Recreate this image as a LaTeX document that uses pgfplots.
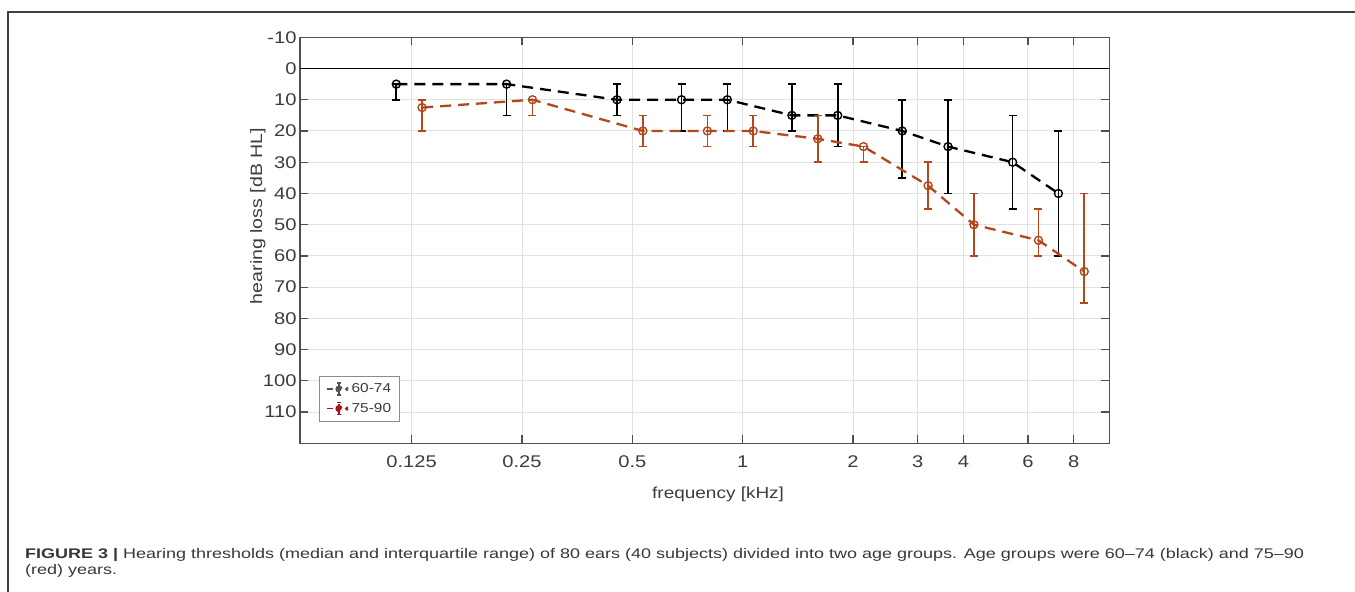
\documentclass[border=0pt]{standalone}
\usepackage{fontspec}
\setmainfont{Liberation Sans}[FakeStretch=1.19]
\newfontfamily\capfont{Liberation Sans}[FakeStretch=1.29]
\usepackage{pgfplots}
\pgfplotsset{compat=1.18}
\definecolor{axgray}{RGB}{80,80,80}
\definecolor{txtgray}{RGB}{60,60,60}
\definecolor{gridgray}{RGB}{225,225,225}
\definecolor{redser}{RGB}{178,72,28}
\definecolor{legred}{RGB}{160,24,24}
\definecolor{leggray}{RGB}{85,85,85}
\definecolor{capgray}{RGB}{55,55,55}
\begin{document}
\begin{tikzpicture}[x=1bp,y=1bp]
\path[use as bounding box] (0,0) rectangle (1355,592);
\draw[color=black!75, line width=1.2bp] (8,0) -- (8,580) -- (1355,580);
\begin{axis}[
  at={(300bp,148.7bp)}, anchor=south west, scale only axis,
  width=809.3bp, height=406bp,
  xmode=log, log basis x=2, xmin=0.062, xmax=10,
  y dir=reverse, ymin=-10, ymax=120,
  xtick={0.125,0.25,0.5,1,2,3,4,6,8},
  xticklabels={0.125,0.25,0.5,1,2,3,4,6,8},
  ytick={-10,0,10,20,30,40,50,60,70,80,90,100,110},
  grid=major, major grid style={gridgray, line width=1bp},
  tick align=inside, major tick length=8bp,
  tick style={axgray, line width=1.2bp},
  axis line style={axgray, line width=1.3bp},
  ticklabel style={font=\fontsize{17}{17}\selectfont, text=txtgray},
  xticklabel style={yshift=-9bp},
  /pgf/number format/assume math mode=true,
  xlabel={frequency [kHz]}, ylabel={hearing loss [dB HL]},
  label style={font=\fontsize{16}{16}\selectfont, text=txtgray},
  xlabel style={at={(axis description cs:0.5166,-0.127)}, anchor=center},
  ylabel style={at={(axis description cs:-0.052,0.56)}, anchor=center,
    font=\fontsize{16.5}{16.5}\selectfont},
  legend style={at={(axis description cs:0.0235,0.166)}, anchor=north west,
    draw=black!45, line width=0.8bp, font=\fontsize{13}{13}\selectfont,
    text=txtgray, inner xsep=7bp, inner ysep=6bp, row sep=6bp,
    nodes={inner sep=1.5bp}, cells={anchor=west}},
  legend cell align=left,
]
\addplot[black, line width=1.4bp, forget plot] coordinates {(0.062,0) (10,0)};
\addplot[black, line width=2.3bp, dash pattern=on 11bp off 7bp,
  mark=o, mark size=4bp, mark options={solid, line width=1.4bp},
  legend image code/.code={
    \draw[leggray, line width=1.2bp] (0bp,0bp) -- (6bp,0bp);
    \draw[leggray, line width=1.2bp] (12bp,-6bp) -- (12bp,6bp)
       (10bp,-6bp) -- (14bp,-6bp) (10bp,6bp) -- (14bp,6bp);
    \fill[leggray] (12bp,0bp) circle (2.4bp);
    \fill[leggray] (20bp,0bp) circle (0.7bp);
    \path (22bp,0bp);},
  error bars/.cd, y dir=both, y explicit,
  error bar style={line width=1.6bp, solid, black},
  error mark options={rotate=90, mark size=4bp, line width=1.6bp, solid, black}]
  table[x=x, y=y, y error plus=ep, y error minus=em] {
x y em ep
0.1135 5 0 5
0.227 5 0 10
0.454 10 5 5
0.681 10 5 10
0.908 10 5 10
1.362 15 10 5
1.816 15 10 10
2.724 20 10 15
3.632 25 15 15
5.448 30 15 15
7.264 40 20 20
};
\addlegendentry{60-74}
\addplot[redser, line width=2.3bp, dash pattern=on 11bp off 7bp,
  mark=o, mark size=4bp, mark options={solid, line width=1.4bp},
  legend image code/.code={
    \draw[legred, line width=1.2bp] (0bp,0bp) -- (6bp,0bp);
    \draw[legred, line width=1.2bp] (12bp,-6bp) -- (12bp,6bp)
       (10bp,-6bp) -- (14bp,-6bp) (10bp,6bp) -- (14bp,6bp);
    \fill[legred] (12bp,0bp) circle (2.4bp);
    \fill[legred] (20bp,0bp) circle (0.7bp);
    \path (22bp,0bp);},
  error bars/.cd, y dir=both, y explicit,
  error bar style={line width=1.6bp, solid, redser},
  error mark options={rotate=90, mark size=4bp, line width=1.6bp, solid, redser}]
  table[x=x, y=y, y error plus=ep, y error minus=em] {
x y em ep
0.1335 12.5 2.5 7.5
0.267 10 0 5
0.534 20 5 5
0.801 20 5 5
1.068 20 5 5
1.602 22.5 7.5 7.5
2.136 25 0 5
3.204 37.5 7.5 7.5
4.272 50 10 10
6.408 55 10 5
8.544 65 25 10
};
\addlegendentry{75-90}
\end{axis}
\node[anchor=base west, font=\capfont\fontsize{14}{14}\selectfont, text=capgray, inner sep=0]
  at (25,33) {\textbf{FIGURE 3 |} Hearing thresholds (median and interquartile range) of 80 ears (40 subjects) divided into two age groups. Age groups were 60–74 (black) and 75–90};
\node[anchor=base west, font=\capfont\fontsize{14}{14}\selectfont, text=capgray, inner sep=0]
  at (25,17) {(red) years.};
\end{tikzpicture}
\end{document}
